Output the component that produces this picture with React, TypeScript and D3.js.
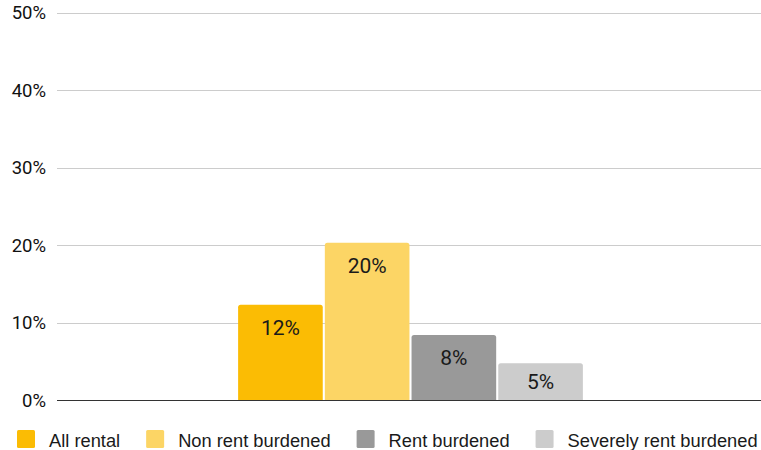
import React, { useEffect, useRef } from "react";
import * as d3 from "d3";

const categories = [""];
const seriesNames = ["All rental", "Non rent burdened", "Rent burdened", "Severely rent burdened"];
const seriesValues = [12.3, 20.3, 8.4, 4.75];
const valueLabels = ["12%", "20%", "8%", "5%"];
const seriesColors = ["#fbbc04", "#fcd565", "#999999", "#cccccc"];
const yTicks = [0, 10, 20, 30, 40, 50];

const W = 761;
const H = 450;

export default function App() {
  const ref = useRef<SVGSVGElement | null>(null);

  useEffect(() => {
    const svg = d3.select(ref.current);
    svg.selectAll("*").remove();

    const plotLeft = 57;
    const plotRight = 761;
    const y = d3.scaleLinear().domain([0, 50]).range([400, 12.5]);

    const x0 = d3.scaleBand<string>().domain(categories).range([plotLeft, 764]).paddingInner(0.3444).paddingOuter(0.3444);
    const x1 = d3.scaleBand<string>().domain(seriesNames).range([0, x0.bandwidth()]).paddingInner(0.024).paddingOuter(0);

    // gridlines
    const g = svg.append("g");
    g.selectAll("line.grid")
      .data(yTicks)
      .enter()
      .append("line")
      .attr("x1", plotLeft)
      .attr("x2", plotRight)
      .attr("y1", (d) => Math.round(y(d)) + 0.5)
      .attr("y2", (d) => Math.round(y(d)) + 0.5)
      .attr("stroke", (d) => (d === 0 ? "#333333" : "#cccccc"))
      .attr("stroke-width", 1);

    g.selectAll("text.tick")
      .data(yTicks)
      .enter()
      .append("text")
      .attr("x", 46)
      .attr("y", (d) => y(d) + 6.7)
      .attr("text-anchor", "end")
      .attr("font-family", "Roboto, sans-serif")
      .attr("font-size", 18.5)
      .attr("fill", "#111111")
      .text((d) => `${d}%`);

    // bars
    const data = seriesNames.map((name, i) => ({ name, value: seriesValues[i], label: valueLabels[i], color: seriesColors[i] }));
    const bx = (d: any) => (x0(categories[0]) as number) + (x1(d.name) as number);
    const r = 2.5;
    const barPath = (d: any) => {
      const x = bx(d);
      const w = x1.bandwidth();
      const top = y(d.value);
      const bot = y(0);
      return `M${x},${bot}L${x},${top + r}Q${x},${top} ${x + r},${top}L${x + w - r},${top}Q${x + w},${top} ${x + w},${top + r}L${x + w},${bot}Z`;
    };
    svg.append("g")
      .selectAll("path")
      .data(data)
      .enter()
      .append("path")
      .attr("d", barPath)
      .attr("fill", (d) => d.color);

    // redraw baseline on top
    svg.append("line")
      .attr("x1", plotLeft)
      .attr("x2", plotRight)
      .attr("y1", Math.round(y(0)) + 0.5)
      .attr("y2", Math.round(y(0)) + 0.5)
      .attr("stroke", "#333333");

    svg.append("g")
      .selectAll("text")
      .data(data)
      .enter()
      .append("text")
      .attr("x", (d) => bx(d) + x1.bandwidth() / 2)
      .attr("y", (d) => {
        const top = y(d.value);
        const center = (top + y(0)) / 2;
        return Math.min(top + 22.5, center) + 7.5;
      })
      .attr("text-anchor", "middle")
      .attr("font-family", "Roboto, sans-serif")
      .attr("font-size", 21)
      .attr("fill", "#1a1a1a")
      .text((d) => d.label);

    // legend
    const lg = svg.append("g");
    let cx = 17;
    data.forEach((d) => {
      lg.append("rect")
        .attr("x", cx)
        .attr("y", 430)
        .attr("width", 18)
        .attr("height", 18)
        .attr("rx", 1.5)
        .attr("fill", d.color);
      const t = lg.append("text")
        .attr("x", cx + 32)
        .attr("y", 446.5)
        .attr("font-family", "Arial, 'Liberation Sans', sans-serif")
        .attr("font-size", 18.3)
        .attr("fill", "#1a1a1a")
        .text(d.name);
      const tw = (t.node() as SVGTextElement).getComputedTextLength();
      cx = cx + 32 + tw + 26;
    });
  }, []);

  return (
    <svg
      ref={ref}
      width={W}
      height={H}
      style={{ position: "absolute", left: 0, top: 0, background: "#ffffff" }}
    />
  );
}
